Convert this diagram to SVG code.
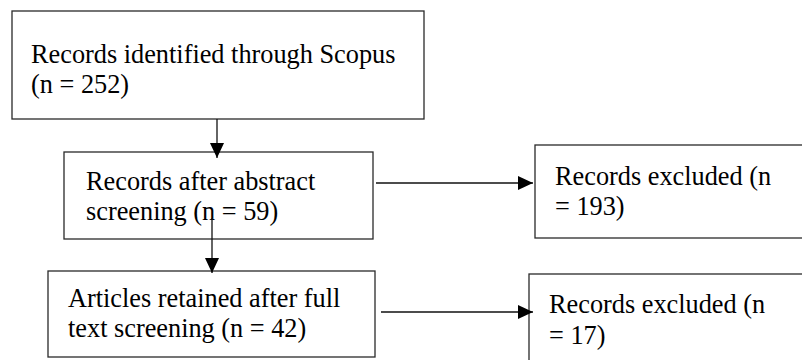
<svg xmlns="http://www.w3.org/2000/svg" width="802" height="360" viewBox="0 0 802 360">
<style>
.box{fill:#fff;stroke:#2a2a2a;stroke-width:1.3}
.t{font-family:"Liberation Serif","Times New Roman",serif;font-size:26.3px;fill:#000}
.c{fill:none;stroke:#111;stroke-width:1.3}
</style>
<defs>
<marker id="ah" markerWidth="15" markerHeight="14" refX="15" refY="7" orient="auto" markerUnits="userSpaceOnUse">
<path d="M0,0 L15,7 L0,14 Z" fill="#000"/>
</marker>
</defs>
<rect width="802" height="360" fill="#fff"/>
<g id="n1">
<rect class="box" x="12" y="11" width="412" height="108"/>
<text class="t" x="31" y="63">Records identified through Scopus</text>
<text class="t" x="31" y="93">(n = 252)</text>
</g>
<g id="n2">
<rect class="box" x="64" y="152" width="309" height="87"/>
<text class="t" x="86" y="190">Records after abstract</text>
<text class="t" x="86" y="220">screening (n = 59)</text>
</g>
<g id="n3">
<rect class="box" x="48" y="271" width="327" height="86"/>
<text class="t" x="68" y="307">Articles retained after full</text>
<text class="t" x="68" y="337">text screening (n = 42)</text>
</g>
<g id="n4">
<rect class="box" x="535" y="145" width="280" height="93"/>
<text class="t" x="555" y="185">Records excluded (n</text>
<text class="t" x="555" y="215">= 193)</text>
</g>
<g id="n5">
<rect class="box" x="529" y="274" width="290" height="100"/>
<text class="t" x="549" y="313">Records excluded (n</text>
<text class="t" x="549" y="344">= 17)</text>
</g>
<g id="connectors">
<line class="c" x1="217" y1="119" x2="217" y2="158" marker-end="url(#ah)"/>
<line class="c" x1="212" y1="218" x2="212" y2="273" marker-end="url(#ah)"/>
<line class="c" x1="376" y1="183" x2="533" y2="183" marker-end="url(#ah)"/>
<line class="c" x1="381" y1="312" x2="533" y2="312" marker-end="url(#ah)"/>
</g>
</svg>
